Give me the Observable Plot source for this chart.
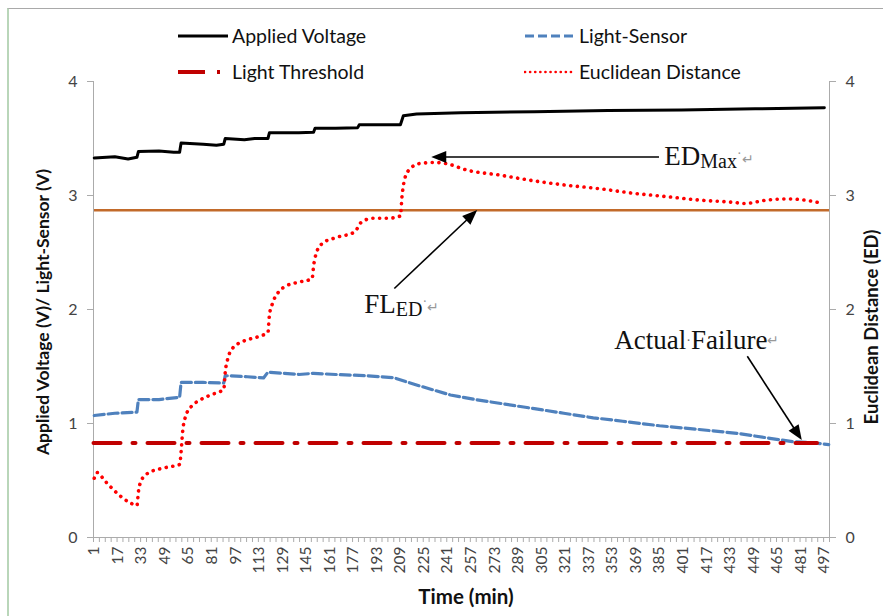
<!DOCTYPE html>
<html>
<head>
<meta charset="utf-8">
<script src="https://cdn.jsdelivr.net/npm/d3@7"></script>
<script src="https://cdn.jsdelivr.net/npm/@observablehq/plot@0.6"></script>
<style>
  html, body { margin: 0; padding: 0; background: #fff; }
  #wrap { position: relative; width: 883px; height: 616px; overflow: hidden; font-family: Lato, "Open Sans", sans-serif; }
  #frame { position: absolute; left: 7px; top: 8px; right: -5px; bottom: -5px; border-left: 2px solid #b9d6b9; border-top: 1.5px solid #a9a9a9; pointer-events: none; }
  .leg { position: absolute; display: flex; align-items: center; font-size: 19.5px; color: #111; white-space: nowrap; }
  .leg svg { margin-right: 3px; }
</style>
</head>
<body>
<div id="wrap"><div id="frame"></div></div>
<script>
// ---- data ----
const voltT = [1, 15, 24, 30, 31, 45, 55, 59, 60, 75, 84, 89, 90, 103, 110, 119, 120, 140, 150, 151, 165, 180, 181, 200, 209, 211, 220, 250, 300, 350, 400, 450, 497];
const voltV = [3.33, 3.34, 3.32, 3.335, 3.385, 3.39, 3.38, 3.38, 3.46, 3.45, 3.44, 3.45, 3.50, 3.49, 3.50, 3.50, 3.55, 3.55, 3.555, 3.59, 3.59, 3.595, 3.62, 3.62, 3.62, 3.70, 3.715, 3.725, 3.735, 3.745, 3.75, 3.76, 3.77];

const lightT = [1, 15, 30, 31, 45, 59, 60, 75, 89, 90, 105, 116, 119, 130, 140, 150, 165, 185, 205, 212, 222, 243, 260, 280, 300, 320, 340, 360, 385, 410, 440, 460, 476, 490, 500];
const lightV = [1.07, 1.09, 1.10, 1.21, 1.21, 1.23, 1.36, 1.36, 1.355, 1.42, 1.41, 1.40, 1.45, 1.44, 1.43, 1.44, 1.43, 1.42, 1.40, 1.37, 1.33, 1.25, 1.21, 1.17, 1.13, 1.09, 1.05, 1.02, 0.98, 0.95, 0.91, 0.87, 0.84, 0.83, 0.815];

const edT = [1, 3, 8, 14, 20, 26, 30, 31, 33, 37, 45, 52, 59, 60, 61, 63, 67, 72, 80, 89, 90, 92, 95, 102, 112, 119, 120, 122, 126, 132, 140, 149, 150, 152, 156, 165, 178, 182, 190, 200, 209, 210, 212, 216, 222, 232, 240, 255, 276, 299, 322, 344, 367, 390, 412, 435, 443, 458, 473, 486, 496];
const edV = [0.52, 0.57, 0.50, 0.42, 0.35, 0.30, 0.28, 0.40, 0.50, 0.56, 0.60, 0.62, 0.64, 0.75, 0.92, 1.06, 1.15, 1.20, 1.25, 1.30, 1.45, 1.58, 1.66, 1.72, 1.76, 1.80, 1.95, 2.05, 2.15, 2.21, 2.24, 2.27, 2.38, 2.50, 2.58, 2.63, 2.68, 2.76, 2.80, 2.80, 2.82, 2.98, 3.15, 3.24, 3.28, 3.29, 3.28, 3.22, 3.18, 3.13, 3.09, 3.06, 3.02, 2.99, 2.96, 2.94, 2.93, 2.96, 2.97, 2.955, 2.93];

const thresholdValue = 0.83;
const thresholdSpan = [0.5, 492];
const flEdValue = 2.87;

const xTickLabels = [1, 17, 33, 49, 65, 81, 97, 113, 129, 145, 161, 177, 193, 209, 225, 241, 257, 273, 289, 305, 321, 337, 353, 369, 385, 401, 417, 433, 449, 465, 481, 497];
const yTicks = [0, 1, 2, 3, 4];

// annotation anchors (data units: time, value)
const annoArrows = [
  {x1: 385, y1: 3.333, x2: 230.3, y2: 3.333},
  {x1: 205.2, y1: 2.18, x2: 261.5, y2: 2.868},
  {x1: 445, y1: 1.585, x2: 482, y2: 0.85}
];
const annoTexts = [
  {t: 388.6, v: 3.26, main: "ED", sub: "Max"},
  {t: 184.8, v: 1.962, main: "FL", sub: "ED"},
  {t: 354.6, v: 1.649, main: "Actual\u00B7Failure", sub: ""}
];

// ---- tables ----
const voltage = voltT.map((t, i) => ({t, v: voltV[i]}));
const light = lightT.map((t, i) => ({t, v: lightV[i]}));
const ed = edT.map((t, i) => ({t, v: edV[i]}));
const threshold = thresholdSpan.map(t => ({t, v: thresholdValue}));
const minorTicks = d3.range(0.5, 501, 4);

const axisColor = "#ababab";
const plot = Plot.plot({
  width: 883,
  height: 616,
  marginTop: 81,
  marginBottom: 79,
  marginLeft: 93,
  marginRight: 54,
  style: {fontFamily: "Lato, 'Open Sans', sans-serif", background: "transparent", color: "#444"},
  x: {domain: [0.5, 500.5]},
  y: {domain: [0, 4]},
  marks: [
    Plot.ruleY([flEdValue], {stroke: "#c26a2a", strokeWidth: 2.6}),
    Plot.ruleX([0.5], {stroke: axisColor}),
    Plot.ruleX([500.5], {stroke: axisColor}),
    Plot.ruleY([0], {stroke: axisColor}),
    Plot.axisY({anchor: "left", ticks: yTicks, tickFormat: d3.format("d"), tickSize: 6, tickPadding: 10, fontSize: 16, stroke: axisColor, label: null, fill: "#444"}),
    Plot.axisY({anchor: "right", ticks: yTicks, tickFormat: d3.format("d"), tickSize: 6, tickPadding: 10, fontSize: 16, stroke: axisColor, label: null, fill: "#444"}),
    Plot.axisX({ticks: minorTicks, tickSize: 5, tickFormat: () => "", stroke: axisColor, label: null}),
    Plot.axisX({ticks: xTickLabels, tickSize: 0, tickPadding: 9, tickRotate: -90, fontSize: 15.5, label: null, fill: "#444"}),
    Plot.line(voltage, {x: "t", y: "v", stroke: "#000", strokeWidth: 3}),
    Plot.line(light, {x: "t", y: "v", stroke: "#4f81bd", strokeWidth: 3.2, strokeDasharray: "10,4"}),
    Plot.line(threshold, {x: "t", y: "v", stroke: "#c00000", strokeWidth: 4, strokeDasharray: "27,12,3,12"}),
    Plot.line(ed, {x: "t", y: "v", stroke: "#ff0000", strokeWidth: 3.6, strokeDasharray: "0.1,6.6", strokeLinecap: "round", curve: "monotone-x"})
  ]
});

const wrap = document.getElementById("wrap");
plot.style.position = "absolute";
plot.style.left = "0px";
plot.style.top = "0px";
wrap.appendChild(plot);

const sx = plot.scale("x"), sy = plot.scale("y");
const svg = d3.select(plot);

// axis titles
function title(x, y, rot, size, txt) {
  svg.append("text")
    .attr("transform", `translate(${x},${y}) rotate(${rot})`)
    .attr("text-anchor", "middle")
    .attr("font-family", "Lato, sans-serif").attr("font-weight", "bold").attr("font-size", size).attr("fill", "#111")
    .text(txt);
}
title(49, 312, -90, 17.5, "Applied Voltage (V)/ Light-Sensor (V)");
title(878, 327, -90, 18.5, "Euclidean Distance (ED)");
title(466, 604, 0, 20.5, "Time (min)");

// arrows
const ga = svg.append("g");
annoArrows.forEach(a => {
  const x1 = sx.apply(a.x1), y1 = sy.apply(a.y1), x2 = sx.apply(a.x2), y2 = sy.apply(a.y2);
  const dx = x2 - x1, dy = y2 - y1, len = Math.hypot(dx, dy);
  const ux = dx / len, uy = dy / len, nx = -uy, ny = ux;
  const L = 15, W = 6;
  const bx = x2 - L * ux, by = y2 - L * uy;
  ga.append("line").attr("x1", x1).attr("y1", y1).attr("x2", bx + 2 * ux).attr("y2", by + 2 * uy)
    .attr("stroke", "#000").attr("stroke-width", 1.6);
  ga.append("polygon")
    .attr("points", `${x2},${y2} ${bx + W * nx},${by + W * ny} ${bx - W * nx},${by - W * ny}`)
    .attr("fill", "#000");
});

// annotation texts (Word formatting marks kept as small grey glyphs)
annoTexts.forEach(a => {
  const t = svg.append("text")
    .attr("x", sx.apply(a.t)).attr("y", sy.apply(a.v))
    .attr("text-anchor", "start")
    .attr("font-family", "'Liberation Serif', 'Times New Roman', serif")
    .attr("font-size", 27).attr("fill", "#111");
  const parts = a.main.split("\u00B7");
  parts.forEach((p, i) => {
    if (i > 0) {
      t.append("tspan").attr("font-size", 14).attr("fill", "#666").attr("dy", -4).text("\u00B7");
      t.append("tspan").attr("dy", 4).text(p);
    } else {
      t.append("tspan").text(p);
    }
  });
  if (a.sub) {
    t.append("tspan").attr("font-size", 20).attr("dy", 3).text(a.sub);
    t.append("tspan").attr("font-size", 14).attr("fill", "#999").attr("dy", -10).text("\u00B7");
    t.append("tspan").attr("font-size", 14).attr("fill", "#999").attr("dy", 6).text("\u21B5");
  } else {
    t.append("tspan").attr("font-size", 14).attr("fill", "#999").attr("dy", -4).text("\u21B5");
  }
});

// legend (HTML, inside the top margin)
function legendItem(left, top, label, stroke, dash, width, cap) {
  const d = document.createElement("div");
  d.className = "leg";
  d.style.left = left + "px";
  d.style.top = top + "px";
  const s = d3.create("svg").attr("width", 52).attr("height", 12);
  s.append("line").attr("x1", 1).attr("x2", 51).attr("y1", 6).attr("y2", 6)
    .attr("stroke", stroke).attr("stroke-width", width)
    .attr("stroke-dasharray", dash).attr("stroke-linecap", cap || "butt");
  d.appendChild(s.node());
  const sp = document.createElement("span");
  sp.textContent = label;
  d.appendChild(sp);
  wrap.appendChild(d);
}
legendItem(177, 24, "Applied Voltage", "#000", null, 3);
legendItem(524, 24, "Light-Sensor", "#4f81bd", "9,4", 3);
legendItem(177, 60, "Light Threshold", "#c00000", "27,12,3,20", 4);
legendItem(524, 60, "Euclidean Distance", "#ff0000", "0.1,5", 2.6, "round");
</script>
</body>
</html>
